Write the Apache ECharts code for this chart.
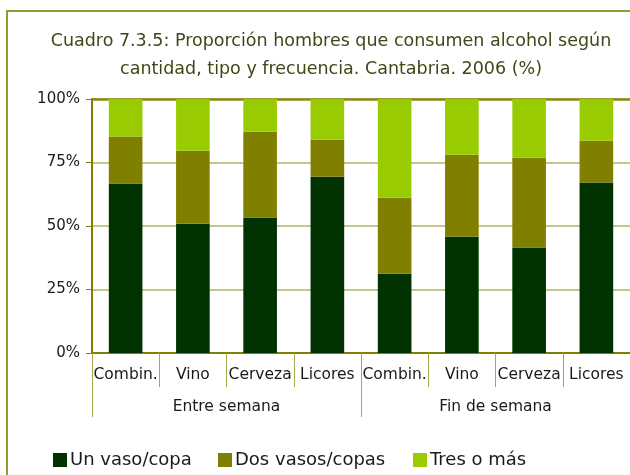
<!DOCTYPE html>
<html>
<head>
<meta charset="utf-8">
<script src="https://cdn.jsdelivr.net/npm/echarts@6/dist/echarts.min.js"></script>
<style>
  html, body { margin: 0; padding: 0; background: #fff; }
  #chart { width: 630px; height: 475px; }
</style>
</head>
<body>
<div id="chart"></div>
<script>
var chart = echarts.init(document.getElementById('chart'));

// datos
var tipos = ['Combin.', 'Vino', 'Cerveza', 'Licores', 'Combin.', 'Vino', 'Cerveza', 'Licores'];
var grupos = ['Entre semana', 'Fin de semana'];
var unVaso = [66.7, 50.9, 53.3, 69.4, 31.2, 45.8, 41.5, 67.1];
var dosVasos = [18.5, 28.7, 33.8, 14.6, 29.9, 32.3, 35.4, 16.5];
var tresMas = [14.8, 20.4, 12.9, 16.0, 38.9, 21.9, 23.1, 16.4];
var yTicks = [0, 25, 50, 75, 100];

var fuente = 'DejaVu Sans';
var oliva = '#808000';

function leyenda(nombre, x) {
    return {
        data: [nombre],
        left: x,
        top: 446,
        icon: 'rect',
        itemWidth: 14,
        itemHeight: 14,
        itemGap: 4,
        textStyle: { fontFamily: fuente, fontSize: 18, color: '#1a1a1a', padding: [0, 0, 0, -2] },
        selectedMode: false
    };
}

option = {
    animation: false,
    backgroundColor: '#fff',
    title: {
        text: 'Cuadro 7.3.5: Proporción hombres que consumen alcohol según\ncantidad, tipo y frecuencia. Cantabria. 2006 (%)',
        left: 326,
        top: 22,
        textAlign: 'center',
        textStyle: {
            fontFamily: fuente,
            fontWeight: 'normal',
            fontSize: 17.5,
            lineHeight: 28,
            color: '#45451a'
        }
    },
    legend: [
        leyenda('Un vaso/copa', 48),
        leyenda('Dos vasos/copas', 213),
        leyenda('Tres o más', 408)
    ],
    graphic: [{
        type: 'rect',
        shape: { x: 7, y: 11, width: 700, height: 600 },
        style: { fill: 'none', stroke: '#999933', lineWidth: 2 },
        z: 0
    }],
    grid: { left: 92, right: -1, top: 99, bottom: 122 },
    xAxis: [{
        type: 'category',
        data: tipos,
        position: 'bottom',
        axisLine: { lineStyle: { color: oliva, width: 2 } },
        axisTick: { show: true, interval: 0, length: 34, lineStyle: { color: '#a8a850' } },
        axisLabel: { interval: 0, margin: 14, fontFamily: fuente, fontSize: 15.5, color: '#1a1a1a' }
    }, {
        type: 'category',
        data: grupos,
        position: 'bottom',
        axisLine: { show: false },
        axisTick: { show: true, interval: 0, length: 64, lineStyle: { color: '#a8a850' } },
        axisLabel: { interval: 0, margin: 46, fontFamily: fuente, fontSize: 15.5, color: '#1a1a1a' }
    }, {
        type: 'category',
        data: tipos,
        position: 'top',
        axisLine: { lineStyle: { color: '#8b8b1a', width: 2.5 } },
        axisTick: { show: false },
        axisLabel: { show: false }
    }],
    yAxis: {
        type: 'value',
        min: yTicks[0],
        max: yTicks[yTicks.length - 1],
        interval: 25,
        axisLine: { show: true, lineStyle: { color: oliva, width: 2 } },
        axisTick: { show: true, length: 6, lineStyle: { color: oliva } },
        axisLabel: { margin: 12, fontFamily: fuente, fontSize: 15, color: '#1a1a1a', formatter: '{value}%' },
        splitLine: { lineStyle: { color: '#b3b366', width: 1.5 } }
    },
    series: [{
        name: 'Un vaso/copa',
        type: 'bar',
        stack: 'total',
        barWidth: '50%',
        data: unVaso,
        itemStyle: { color: '#003300' }
    }, {
        name: 'Dos vasos/copas',
        type: 'bar',
        stack: 'total',
        barWidth: '50%',
        data: dosVasos,
        itemStyle: { color: '#808000' }
    }, {
        name: 'Tres o más',
        type: 'bar',
        stack: 'total',
        barWidth: '50%',
        data: tresMas,
        itemStyle: { color: '#99cc00' }
    }]
};

chart.setOption(option);
</script>
</body>
</html>
